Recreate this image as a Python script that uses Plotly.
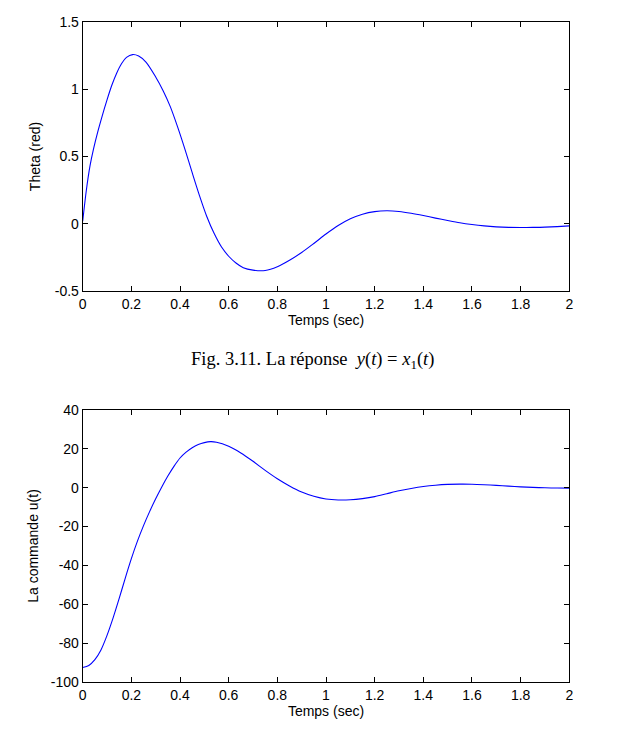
import plotly.graph_objects as go

# ---- data ----
t_theta = [0.00, 0.015, 0.03, 0.045, 0.06, 0.08, 0.10, 0.12, 0.14, 0.16, 0.18, 0.205,
           0.23, 0.26, 0.30, 0.33, 0.36, 0.39, 0.42, 0.45, 0.48, 0.51, 0.54, 0.57,
           0.60, 0.63, 0.66, 0.70, 0.75, 0.80, 0.85, 0.90, 0.95, 1.00, 1.05, 1.10,
           1.15, 1.20, 1.25, 1.30, 1.35, 1.40, 1.45, 1.50, 1.55, 1.60, 1.65, 1.70,
           1.75, 1.80, 1.85, 1.90, 1.95, 2.00]
theta = [0.02, 0.25, 0.43, 0.56, 0.67, 0.80, 0.92, 1.03, 1.12, 1.19, 1.235, 1.256,
         1.245, 1.20, 1.09, 0.99, 0.87, 0.72, 0.555, 0.38, 0.21, 0.055, -0.07, -0.17,
         -0.24, -0.29, -0.325, -0.343, -0.346, -0.318, -0.27, -0.212, -0.145, -0.075, -0.012, 0.038,
         0.072, 0.091, 0.097, 0.092, 0.079, 0.062, 0.043, 0.025, 0.008, -0.005, -0.015, -0.022,
         -0.026, -0.027, -0.026, -0.024, -0.02, -0.015]

t_u = [0.00, 0.025, 0.05, 0.075, 0.10, 0.125, 0.15, 0.175, 0.20, 0.225, 0.25, 0.275,
       0.30, 0.325, 0.35, 0.375, 0.40, 0.425, 0.45, 0.475, 0.50, 0.525, 0.55, 0.60,
       0.65, 0.70, 0.75, 0.80, 0.85, 0.90, 0.95, 1.00, 1.05, 1.10, 1.15, 1.20,
       1.25, 1.30, 1.35, 1.40, 1.45, 1.50, 1.55, 1.60, 1.65, 1.70, 1.75, 1.80,
       1.85, 1.90, 1.95, 2.00]
u = [-92.5, -91.5, -88.5, -83.5, -76.0, -67.0, -57.0, -46.5, -36.5, -27.5, -19.5, -12.3,
     -5.7, 0.4, 6.0, 11.0, 15.3, 18.3, 20.6, 22.2, 23.2, 23.7, 23.4, 21.3,
     17.9, 13.6, 8.9, 4.6, 0.9, -2.2, -4.4, -5.8, -6.3, -6.2, -5.6, -4.6,
     -3.1, -1.6, -0.4, 0.6, 1.3, 1.7, 1.85, 1.8, 1.55, 1.2, 0.8, 0.45,
     0.15, -0.05, -0.15, -0.2]

x_ticks = [0, 0.2, 0.4, 0.6, 0.8, 1.0, 1.2, 1.4, 1.6, 1.8, 2.0]
x_ticktext = ["0", "0.2", "0.4", "0.6", "0.8", "1", "1.2", "1.4", "1.6", "1.8", "2"]
y1_ticks = [-0.5, 0, 0.5, 1, 1.5]
y1_ticktext = ["-0.5", "0", "0.5", "1", "1.5"]
y2_ticks = [-100, -80, -60, -40, -20, 0, 20, 40]
y2_ticktext = ["-100", "-80", "-60", "-40", "-20", "0", "20", "40"]

x_title = "Temps (sec)"
y1_title = "Theta (red)"
y2_title = "La commande u(t)"
caption = "Fig. 3.11. La réponse  <i>y</i>(<i>t</i>) = <i>x</i><sub>1</sub>(<i>t</i>)"

W, H = 627, 734
FONT = "Liberation Sans, Arial, sans-serif"

fig = go.Figure()
fig.add_trace(go.Scatter(x=t_theta, y=theta, mode="lines",
                         line=dict(color="#0000ff", width=1.1, shape="spline", smoothing=0.8),
                         xaxis="x", yaxis="y", showlegend=False))
fig.add_trace(go.Scatter(x=t_u, y=u, mode="lines",
                         line=dict(color="#0000ff", width=1.1, shape="spline", smoothing=0.8),
                         xaxis="x2", yaxis="y2", showlegend=False))

left, right = 82.7 / W, 569.3 / W
ax_common = dict(showline=True, linecolor="black", linewidth=1, mirror="ticks",
                 ticks="inside", ticklen=5, tickcolor="black", tickwidth=1,
                 showgrid=False, zeroline=False, automargin=False,
                 tickfont=dict(family=FONT, size=14, color="black"))
title_font = dict(family=FONT, size=14, color="black")

fig.update_layout(
    width=W, height=H,
    margin=dict(l=0, r=0, t=0, b=0),
    paper_bgcolor="white", plot_bgcolor="white",
    xaxis=dict(domain=[left, right], range=[0, 2], tickvals=x_ticks, ticktext=x_ticktext,
               anchor="y", title=dict(text=x_title, standoff=2, font=title_font), **ax_common),
    yaxis=dict(domain=[1 - 291.3 / H, 1 - 21.7 / H], range=[-0.5, 1.5], tickvals=y1_ticks,
               ticktext=y1_ticktext, anchor="x",
               title=dict(text=y1_title, standoff=10, font=title_font), **ax_common),
    xaxis2=dict(domain=[left, right], range=[0, 2], tickvals=x_ticks, ticktext=x_ticktext,
                anchor="y2", title=dict(text=x_title, standoff=0, font=title_font), **ax_common),
    yaxis2=dict(domain=[1 - 682 / H, 1 - 410 / H], range=[-100, 40], tickvals=y2_ticks,
                ticktext=y2_ticktext, anchor="x2",
                title=dict(text=y2_title, standoff=8, font=title_font), **ax_common),
    annotations=[dict(text=caption, x=312 / W, y=1 - 360 / H, xref="paper", yref="paper",
                      xanchor="center", yanchor="middle", showarrow=False,
                      font=dict(family="Liberation Serif, Times New Roman, serif", size=18.5,
                                color="black"))],
)

fig.write_html("out.html")
